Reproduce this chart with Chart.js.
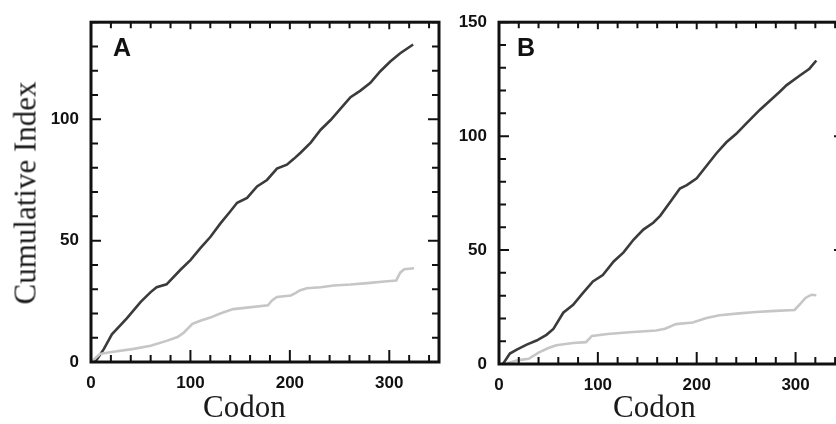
<!DOCTYPE html>
<html>
<head>
<meta charset="utf-8">
<script src="https://cdn.jsdelivr.net/npm/chart.js@4.4.0/dist/chart.umd.min.js"></script>
<style>
body{margin:0;width:836px;height:424px;overflow:hidden;background:#fff;position:relative}
.panel{position:absolute;top:0;height:424px}
#pa{left:0;width:450px}
#pb{left:440px;width:420px}
.ttl{position:absolute;font-family:"Liberation Serif";font-size:31px;line-height:31px;color:#1a1a1a;white-space:nowrap}
.tag{position:absolute;font:bold 25px/25px "Liberation Sans";color:#111}
</style>
</head>
<body>
<div class="panel" id="pa"><canvas id="chartA"></canvas></div>
<div class="panel" id="pb"><canvas id="chartB"></canvas></div>
<div class="ttl" id="ytitle" style="left:25px;top:193px;transform:translate(-50%,-50%) rotate(-90deg)">Cumulative Index</div>
<div class="ttl" style="left:203px;top:391px">Codon</div>
<div class="ttl" style="left:613px;top:391px">Codon</div>
<div class="tag" style="left:113px;top:35px">A</div>
<div class="tag" style="left:517px;top:35px">B</div>
<script>
// panel A
const aDarkX  = [0, 5, 13, 21, 36, 50, 60, 66, 76, 90, 100, 110, 120, 130, 140, 147, 157, 167, 177, 187, 197, 204, 211, 221, 231, 241, 251, 261, 271, 281, 291, 301, 311, 324];
const aDarkY  = [0, 0.5, 5.4, 11.4, 18, 24.8, 28.8, 30.8, 32, 38, 42, 46.9, 51.5, 57, 62, 65.6, 67.6, 72.3, 75, 79.7, 81.3, 83.7, 86.3, 90.4, 95.7, 99.7, 104.4, 109.1, 111.8, 115, 119.8, 123.8, 127.2, 130.8];
const aLightX = [0, 9, 19, 43, 60, 76, 87, 93, 102, 110, 120, 130, 143, 157, 178, 182, 187, 201, 206, 210, 217, 231, 244, 261, 278, 295, 307, 311, 315, 325];
const aLightY = [0, 3.3, 4, 5.4, 6.7, 8.7, 10.3, 12, 15.7, 17, 18.3, 20, 21.8, 22.4, 23.4, 25.4, 26.8, 27.4, 28.5, 29.5, 30.4, 30.8, 31.5, 31.9, 32.5, 33.2, 33.6, 36.8, 38.2, 38.6];
// panel B
const bDarkX  = [4, 11, 18, 28, 38, 48, 55, 65, 75, 85, 95, 105, 116, 126, 136, 146, 156, 163, 173, 183, 190, 200, 210, 220, 230, 240, 250, 264, 274, 284, 291, 304, 314, 321];
const bDarkY  = [0, 4.6, 6.3, 8.5, 10.3, 12.8, 15.4, 22.5, 26, 31.2, 36.2, 39, 45, 49, 54.5, 59, 62, 65, 71, 77, 78.5, 81.5, 87, 92.5, 97.3, 101, 105.5, 111.6, 115.5, 119.5, 122.4, 126.5, 129.6, 133.2];
const bLightX = [8, 20, 30, 40, 50, 58, 75, 88, 94, 110, 132, 159, 168, 179, 196, 210, 223, 243, 260, 280, 299, 305, 310, 316, 321];
const bLightY = [0.3, 1.7, 2.3, 5, 7, 8.2, 9.2, 9.6, 12.3, 13.2, 13.9, 14.7, 15.5, 17.5, 18.2, 20.2, 21.4, 22.2, 22.8, 23.3, 23.7, 26.5, 29, 30.4, 30.2];

const xLabels = [0, 100, 200, 300];
const aYLabels = [0, 50, 100];
const bYLabels = [0, 50, 100, 150];

const DARK = '#3b3b3b', LIGHT = '#c6c6c6', INK = '#111';

const pts = (xs, ys) => xs.map((x, i) => ({ x, y: ys[i] }));

// inward ticks on all four sides + frame
const frameTicks = {
  id: 'frameTicks',
  afterDraw(chart) {
    const { ctx, chartArea: a, scales: { x, y } } = chart;
    ctx.save();
    ctx.strokeStyle = INK;
    ctx.lineWidth = 2;
    ctx.beginPath();
    x.ticks.forEach(t => {
      if (t.value % 20) return;
      const px = x.getPixelForValue(t.value);
      const big = t.value % 100 === 0;
      ctx.moveTo(px, a.bottom); ctx.lineTo(px, a.bottom - (big ? 12 : 7));
      ctx.moveTo(px, a.top); ctx.lineTo(px, a.top + (big ? 7 : 6));
    });
    y.ticks.forEach(t => {
      const py = y.getPixelForValue(t.value);
      const big = t.value % 50 === 0;
      ctx.moveTo(a.left, py); ctx.lineTo(a.left + (big ? 10 : 7), py);
      ctx.moveTo(a.right, py); ctx.lineTo(a.right - (big ? 11 : 7), py);
    });
    ctx.stroke();
    ctx.lineWidth = 3;
    ctx.strokeRect(a.left, a.top, a.right - a.left, a.bottom - a.top);
    ctx.restore();
  }
};

function makePanel(id, dark, light, yMax, yLabels, yW, xH, pad) {
  const tickFont = { family: "'Liberation Sans', Arial, sans-serif", weight: 'bold', size: 17 };
  return new Chart(document.getElementById(id), {
    type: 'line',
    data: {
      datasets: [
        { data: light, borderColor: LIGHT, borderWidth: 2.6, pointRadius: 0, tension: 0 },
        { data: dark, borderColor: DARK, borderWidth: 2.6, pointRadius: 0, tension: 0 }
      ]
    },
    options: {
      responsive: true, maintainAspectRatio: false, animation: false,
      layout: { padding: pad },
      plugins: { legend: { display: false }, tooltip: { enabled: false } },
      scales: {
        x: {
          type: 'linear', min: 0, max: 350,
          grid: { display: false, drawTicks: false }, border: { display: false },
          ticks: { stepSize: 20, includeBounds: false, autoSkip: false, maxRotation: 0, padding: 11, color: INK, font: tickFont,
            callback: v => xLabels.includes(v) ? String(v) : '' },
          afterFit: s => { s.height = xH; }
        },
        y: {
          min: 0, max: yMax,
          grid: { display: false, drawTicks: false }, border: { display: false },
          ticks: { stepSize: 10, autoSkip: false, padding: 12, color: INK, font: tickFont,
            callback: v => yLabels.includes(v) ? String(v) : '' },
          afterFit: s => { s.width = yW; }
        }
      }
    },
    plugins: [frameTicks]
  });
}

makePanel('chartA', pts(aDarkX, aDarkY), pts(aLightX, aLightY), 140, aYLabels, 91, 62, { top: 14, right: 11, left: 0, bottom: 0 });
makePanel('chartB', pts(bDarkX, bDarkY), pts(bLightX, bLightY), 150, bYLabels, 59, 60, { top: 16, right: 15, left: 0, bottom: 0 });
</script>
</body>
</html>
